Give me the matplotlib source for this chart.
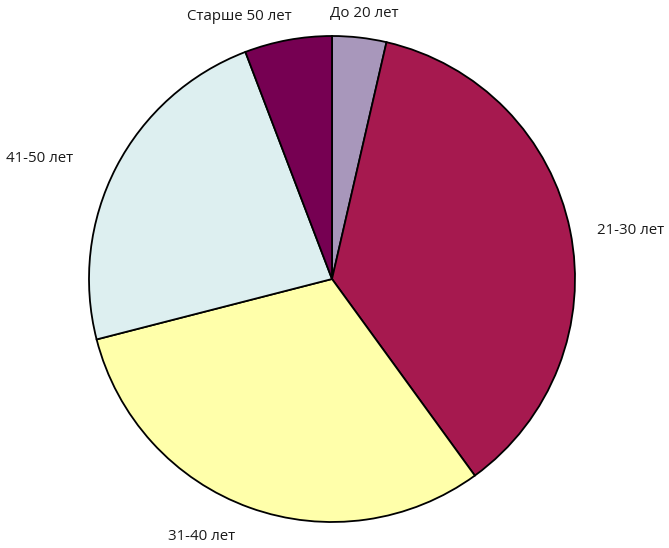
import matplotlib.pyplot as plt

labels = ['До 20 лет', '21-30 лет', '31-40 лет', '41-50 лет', 'Старше 50 лет']
values = [3.6, 36.4, 31.0, 23.2, 5.8]
colors = ['#a897bb', '#a6194f', '#ffffaa', '#ddeff0', '#760052']

# where the labels sit, in pixels of the original picture
label_px = [(364, 14), (631, 230), (202, 537), (40, 158), (239, 17)]

W, H = 669, 548
cx, cy, R = 332, 279, 243

fig = plt.figure(figsize=(W / 100, H / 100), dpi=100)
ax = fig.add_axes([0, 0, 1, 1])

wedges, _ = ax.pie(values, colors=colors, startangle=90, counterclock=False,
                   wedgeprops=dict(edgecolor='black', linewidth=1.3))

for lab, (px, py) in zip(labels, label_px):
    ax.text((px - cx) / R, (cy - py) / R, lab, ha='center', va='center',
            fontsize=10.8, family=['Open Sans', 'DejaVu Sans'], color='#1a1a1a')

ax.set_xlim(-cx / R, (W - cx) / R)
ax.set_ylim(-(H - cy) / R, cy / R)
ax.set_aspect('auto')
ax.axis('off')

fig.savefig('out.png', dpi=100)
